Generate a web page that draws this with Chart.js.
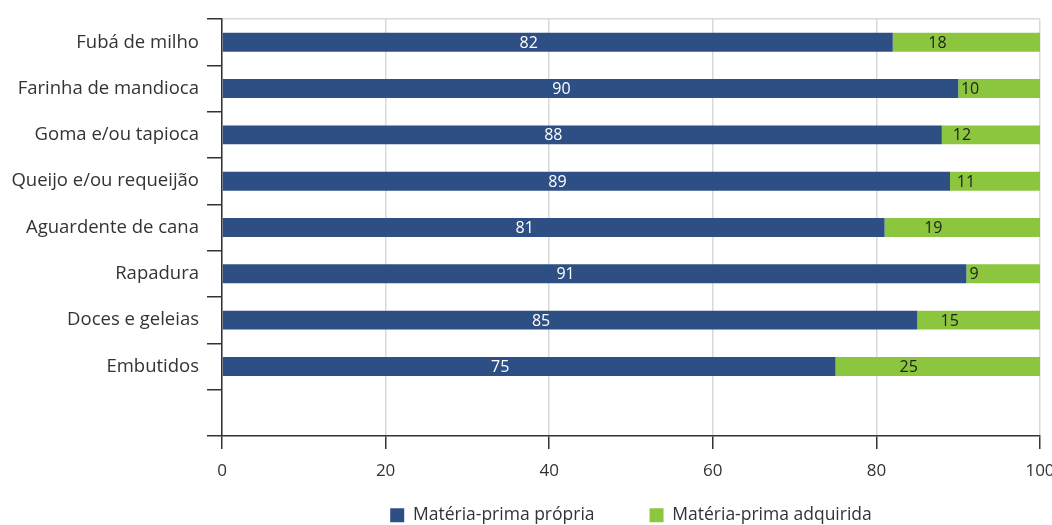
<!DOCTYPE html>
<html>
<head>
<meta charset="utf-8">
<script src="https://cdn.jsdelivr.net/npm/chart.js@4"></script>
<style>
html,body{margin:0;padding:0;background:#fff;}
#wrap{width:1052px;height:525px;position:relative;}
</style>
</head>
<body>
<div id="wrap"><canvas id="c" width="1052" height="525"></canvas></div>
<script>
const categories = ['Fubá de milho','Farinha de mandioca','Goma e/ou tapioca','Queijo e/ou requeijão','Aguardente de cana','Rapadura','Doces e geleias','Embutidos',''];
const propria = [82,90,88,89,81,91,85,75,null];
const adquirida = [18,10,12,11,19,9,15,25,null];
const seriesNames = ['Matéria-prima própria','Matéria-prima adquirida'];
const xTicks = [0,20,40,60,80,100];

const FONT = "'Open Sans', 'Noto Sans', sans-serif";
const BLUE = '#2e4f83';
const GREEN = '#8cc63f';

const labelPlugin = {
  id: 'barLabels',
  afterDatasetsDraw(chart) {
    const ctx = chart.ctx;
    ctx.save();
    ctx.font = '16px ' + FONT;
    ctx.textAlign = 'center';
    ctx.textBaseline = 'middle';
    chart.data.datasets.forEach((ds, di) => {
      const meta = chart.getDatasetMeta(di);
      meta.data.forEach((el, i) => {
        const v = ds.data[i];
        if (v === null || v === undefined) return;
        const p = el.getProps(['x','y','base'], true);
        const cx = (p.x + p.base) / 2 - 29;
        ctx.fillStyle = di === 0 ? '#ffffff' : '#222222';
        ctx.fillText(String(v), cx, p.y + 1);
      });
    });
    ctx.restore();
  }
};

new Chart(document.getElementById('c'), {
  type: 'bar',
  data: {
    labels: categories,
    datasets: [
      { label: seriesNames[0], data: propria, backgroundColor: BLUE, barPercentage: 0.41, categoryPercentage: 1 },
      { label: seriesNames[1], data: adquirida, backgroundColor: GREEN, barPercentage: 0.41, categoryPercentage: 1 }
    ]
  },
  options: {
    indexAxis: 'y',
    responsive: false,
    animation: false,
    devicePixelRatio: 1,
    layout: { padding: { top: 17, right: 0, left: 0, bottom: -9 } },
    scales: {
      x: {
        stacked: true,
        min: 0, max: 100,
        afterBuildTicks: s => { s.ticks = xTicks.map(v => ({ value: v })); },
        afterFit: s => { s.paddingRight = 12; },
        grid: { color: '#d9d9d9', lineWidth: 1.5, tickColor: '#333', tickLength: 13, drawOnChartArea: true },
        border: { color: '#333', width: 1.5 },
        ticks: { color: '#333', font: { family: FONT, size: 17 }, padding: 12, maxRotation: 0 }
      },
      y: {
        stacked: true,
        afterFit: s => { s.width = 222; },
        grid: {
          offset: true,
          color: c => c.index === 0 ? '#d9d9d9' : 'rgba(0,0,0,0)',
          tickColor: '#333',
          tickLength: 15,
          lineWidth: 1.5
        },
        border: { color: '#333', width: 1.5 },
        ticks: { color: '#333', font: { family: FONT, size: 18.5 }, padding: 8, autoSkip: false }
      }
    },
    plugins: {
      legend: {
        position: 'bottom',
        fullSize: false,
        title: { display: true, text: '', font: { size: 1 }, padding: { top: 0, bottom: -43 } },
        labels: {
          boxWidth: 14, boxHeight: 14, padding: 55,
          color: '#333', font: { family: FONT, size: 17.5 }
        }
      },
      tooltip: { enabled: false }
    }
  },
  plugins: [labelPlugin]
});
</script>
</body>
</html>
